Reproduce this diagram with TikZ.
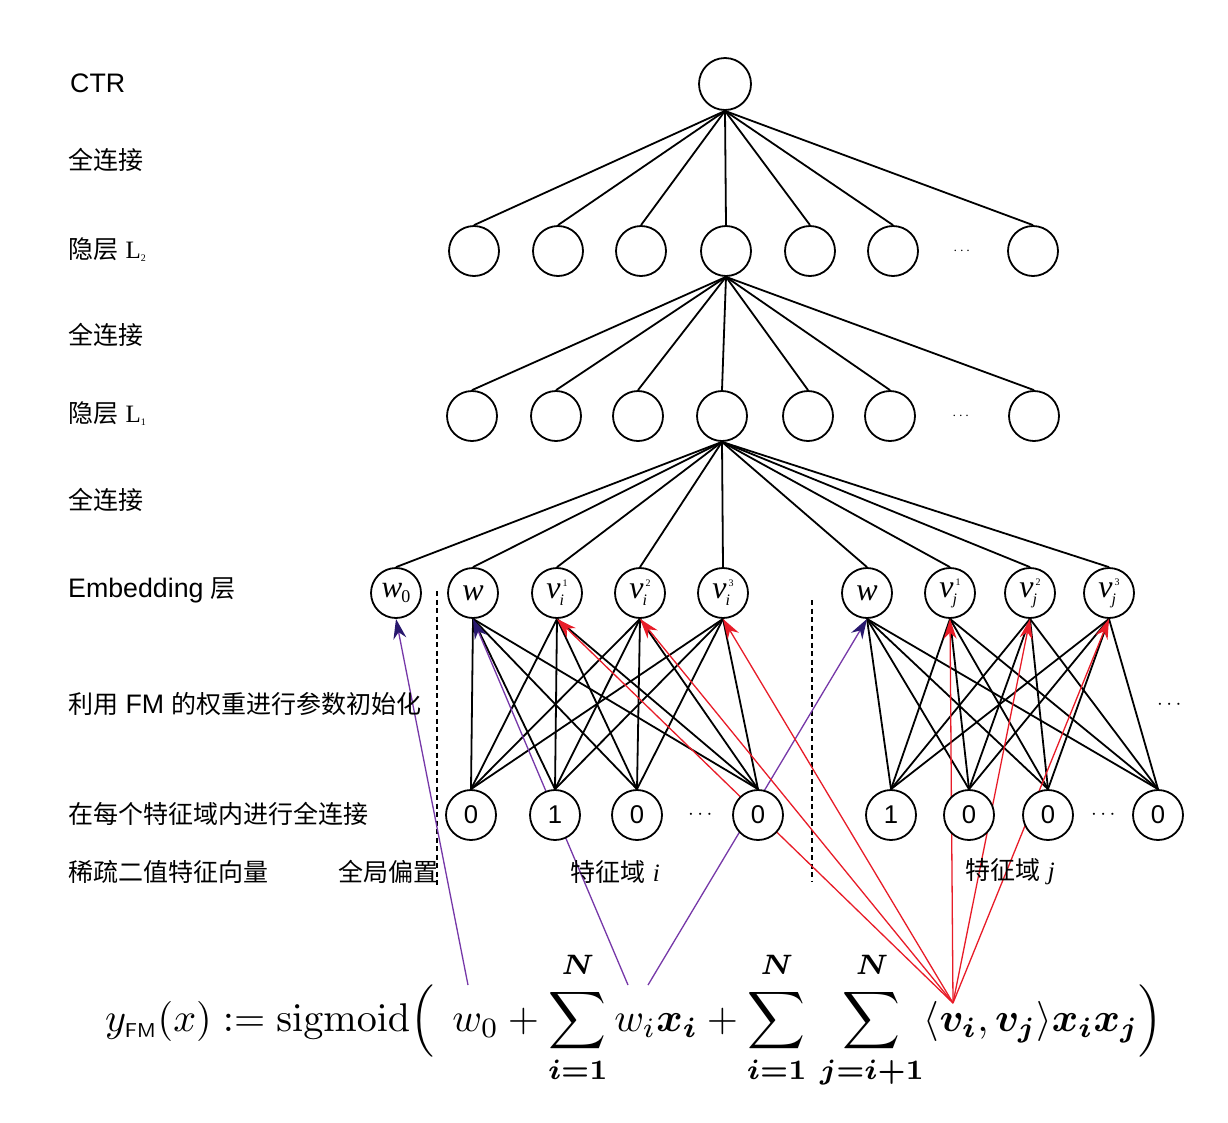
\documentclass[tikz,border=0pt]{standalone}
\usepackage[no-math]{fontspec}
\usepackage{amsmath}
\setmainfont{Liberation Sans}[Scale=1.07]
\newfontfamily\cjk{Noto Sans CJK SC}
\newfontfamily\tms{Liberation Serif}
\usetikzlibrary{arrows.meta}
\pgfdeclarelayer{paper}
\pgfdeclarelayer{wires}
\pgfsetlayers{paper,wires,main}
\definecolor{fmred}{RGB}{232,28,40}
\definecolor{fmpurple}{RGB}{118,56,168}
\definecolor{fmnavy}{RGB}{40,24,110}
% italic serif letter with a stacked subscript / superscript
\newcommand\embw{{\tms\fontsize{32}{32}\selectfont\itshape w}}
\newcommand\embwz{{\tms\fontsize{31}{31}\selectfont\itshape w}\kern-1pt\raisebox{-5pt}{\tms\fontsize{18}{18}\selectfont 0}}
\newcommand\embv[2]{{\tms\fontsize{32}{32}\selectfont\itshape v}\kern-1pt\raisebox{-7pt}{\rlap{\tms\fontsize{16}{16}\selectfont\itshape #1}}\kern3pt\raisebox{12pt}{\tms\fontsize{10}{10}\selectfont #2}}
\newcommand\layerL[1]{{\tms\fontsize{25}{25}\selectfont L}\raisebox{-3pt}{\tms\fontsize{10}{10}\selectfont #1}}
% upper limit of a sum, lifted a little off the symbol
\newcommand\uplim{\boldsymbol{N}\rule[-2.5pt]{0pt}{0pt}}
\begin{document}
\begin{tikzpicture}[x=1pt,y=-1pt,
  neuron/.style={circle,draw,fill=white,line width=1.8pt,minimum size=50pt,inner sep=0pt,
    font=\fontsize{24}{24}\selectfont},
  link/.style={line width=1.8pt},
  lbl/.style={anchor=west,inner sep=0pt,font=\fontsize{25}{30}\selectfont},
  dotsnode/.style={inner sep=0pt,font=\fontsize{15}{15}\selectfont},
  sep/.style={line width=2.5pt,dash pattern=on 5pt off 3.5pt},
  redarrow/.style={draw=fmred,line width=1.3pt,
    -{Stealth[length=20pt,width=13pt,color=fmred,fill=fmred]}},
  purplearrow/.style={draw=fmpurple,line width=1.3pt,
    -{Stealth[length=20pt,width=13pt,color=fmnavy,fill=fmnavy]}}]

\begin{pgfonlayer}{paper}
\fill[white] (0,0) rectangle (1228,1122);
\end{pgfonlayer}

% left column of layer descriptions
\node[lbl] (tctr) at (70,83) {CTR};
\node[lbl] (tfc2) at (68,160) {\cjk 全连接};
\node[lbl] (tl2)  at (68,250) {{\cjk 隐层} \layerL{2}};
\node[lbl] (tfc1) at (68,335) {\cjk 全连接};
\node[lbl] (tl1)  at (68,414) {{\cjk 隐层} \layerL{1}};
\node[lbl] (tfc0) at (68,500) {\cjk 全连接};
\node[lbl] (temb) at (68,590) {Embedding {\cjk 层}};
\node[lbl] (tinit) at (68,704) {{\cjk 利用} FM {\cjk 的权重进行参数初始化}};
\node[lbl] (tfld) at (68,814) {\cjk 在每个特征域内进行全连接};
\node[lbl] (tsp)  at (68,872) {\cjk 稀疏二值特征向量};
\node[lbl] (tbias) at (338,872) {\cjk 全局偏置};
\node[inner sep=0pt,font=\fontsize{25}{30}\selectfont] (tfi) at (615,872) {{\cjk 特征域} {\tms\itshape i}};
\node[inner sep=0pt,font=\fontsize{25}{30}\selectfont] (tfj) at (1010,872) {{\cjk 特征域} {\tms\itshape j}};

% output unit
\node[neuron,minimum size=52pt] (ctr) at (725,84) {};

% hidden layer L2
\foreach \n/\x in {a/474,b/558,c/641,d/726,e/810,f/893,g/1033}
  \node[neuron] (h2\n) at (\x,251) {};
\node[dotsnode] (h2dots) at (963,251) {$\cdots$};

% hidden layer L1
\foreach \n/\x in {a/472,b/556,c/638,d/722,e/808,f/890,g/1034}
  \node[neuron] (h1\n) at (\x,416) {};
\node[dotsnode] (h1dots) at (962,416) {$\cdots$};

% embedding layer
\node[neuron] (e0)   at (396,593) {\embwz};
\node[neuron] (ew1)  at (473,593) {\embw};
\node[neuron] (ev11) at (557,593) {\embv{i}{1}};
\node[neuron] (ev12) at (640,593) {\embv{i}{2}};
\node[neuron] (ev13) at (723,593) {\embv{i}{3}};
\node[neuron] (ew2)  at (867,593) {\embw};
\node[neuron] (ev21) at (950,593) {\embv{j}{1}};
\node[neuron] (ev22) at (1030,593) {\embv{j}{2}};
\node[neuron] (ev23) at (1109,593) {\embv{j}{3}};

% sparse binary inputs
\node[neuron] (s11) at (471,815) {0};
\node[neuron] (s12) at (555,815) {1};
\node[neuron] (s13) at (637,815) {0};
\node[neuron] (s14) at (758,815) {0};
\node[dotsnode,font=\fontsize{22}{22}\selectfont] (s1dots) at (702,815) {$\cdots$};
\node[neuron] (s21) at (891,815) {1};
\node[neuron] (s22) at (969,815) {0};
\node[neuron] (s23) at (1048,815) {0};
\node[neuron] (s24) at (1158,815) {0};
\node[dotsnode,font=\fontsize{22}{22}\selectfont] (s2dots) at (1105,815) {$\cdots$};
\node[dotsnode,font=\fontsize{22}{22}\selectfont] (rdots) at (1171,705) {$\cdots$};

% FM formula
\node[anchor=west,inner sep=0pt] (fm) at (105,1020) {\resizebox{1057pt}{!}{$\displaystyle
  y_{\textsf{\tiny FM}}(x) := \mathrm{sigmoid}\Big(\;\, w_0 + \sum_{\boldsymbol{i=1}}^{\uplim} w_i \boldsymbol{x_i}
  + \sum_{\boldsymbol{i=1}}^{\uplim}\,\sum_{\boldsymbol{j=i+1}}^{\uplim} \langle \boldsymbol{v_i}, \boldsymbol{v_j}\rangle \boldsymbol{x_i x_j} \Big)$}};

% terms of the formula feeding the embedding layer
\coordinate (pw0) at (468,985);
\coordinate (pwi) at (628,985);
\coordinate (pwj) at (648,985);
\coordinate (pv)  at (953,1003);

% field separators
\coordinate (d1a) at (437,591);
\coordinate (d1b) at (437,885);
\coordinate (d2a) at (812,600);
\coordinate (d2b) at (812,882);

\begin{pgfonlayer}{wires}
% fully connected layers
\foreach \n in {a,b,c,d,e,f,g}
  \draw[link] (ctr.south) -- (h2\n.north);
\foreach \n in {a,b,c,d,e,f,g}
  \draw[link] (h2d.south) -- (h1\n.north);
\foreach \n in {e0,ew1,ev11,ev12,ev13,ew2,ev21,ev22,ev23}
  \draw[link] (h1d.south) -- (\n.north);

% field-wise full connection
\foreach \s in {s11,s12,s13,s14}
  \foreach \e in {ew1,ev11,ev12,ev13}
    \draw[link] (\s.north) -- (\e.south);
\foreach \s in {s21,s22,s23,s24}
  \foreach \e in {ew2,ev21,ev22,ev23}
    \draw[link] (\s.north) -- (\e.south);

\draw[sep] (d1a) -- (d1b);
\draw[sep] (d2a) -- (d2b);

\draw[purplearrow] (pw0) -- (e0.south);
\draw[purplearrow] (pwi) -- (ew1.south);
\draw[purplearrow] (pwj) -- (ew2.south);
\foreach \e in {ev11,ev12,ev13,ev21,ev22,ev23}
  \draw[redarrow] (pv) -- (\e.south);
\end{pgfonlayer}

\end{tikzpicture}
\end{document}
